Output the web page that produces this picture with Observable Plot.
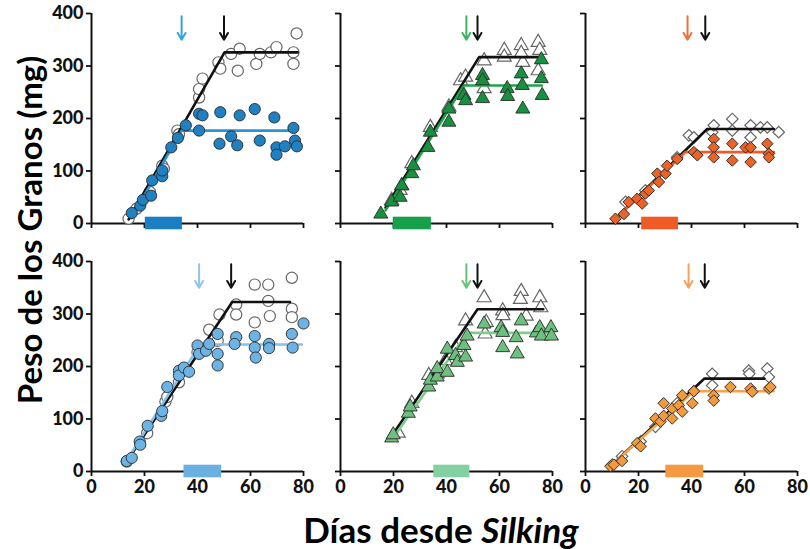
<!DOCTYPE html>
<html>
<head>
<meta charset="utf-8">
<script src="https://cdn.jsdelivr.net/npm/d3@7"></script>
<script src="https://cdn.jsdelivr.net/npm/@observablehq/plot@0.6"></script>
<style>
  html, body { margin: 0; padding: 0; background: #fff; }
  #wrap { position: relative; width: 810px; height: 549px; overflow: hidden; font-family: Lato, "Open Sans", sans-serif; }
  .panel { position: absolute; }
  .panel svg { overflow: visible; }
  .panel svg [aria-label$="tick"] path, .panel svg .tick line { stroke-width: 1.8px; stroke: #111; }
  #ylab { position: absolute; left: 29px; top: 230px; transform: translate(-50%, -50%) rotate(-90deg); white-space: nowrap; font-weight: 700; font-size: 33px; color: #000; }
  #xlab { position: absolute; left: 441px; top: 529px; transform: translate(-50%, -50%); white-space: nowrap; font-weight: 700; font-size: 35px; color: #000; }
</style>
</head>
<body>
<div id="wrap">
  <div id="ylab">Peso de los Granos (mg)</div>
  <div id="xlab">Días desde <i>Silking</i></div>
</div>
<script>
// ---- Data ----
const xTicks = [0, 20, 40, 60, 80];
const yTicks = [0, 100, 200, 300, 400];

// Panel 1 (top-left, circles, blue)
const p1Open = [[14,9],[17,28],[22,60],[26.7,110],[27.3,104],[32.4,177],[33,170],[40.6,240],[40.6,256],[41.9,276],[47.9,307],[48.6,295],[52.7,323],[55.9,333],[55.2,291],[62.2,304],[63.5,323],[67.7,326],[69.8,336],[76.2,326],[76.2,304],[77.4,362]];
const p1Filled = [[15.2,20],[18.4,34],[19.4,45],[22.5,53],[22.9,82],[26.7,90],[26.7,101],[30.1,145],[32.6,163],[35.6,187],[40.6,209],[41.9,206],[40.6,177],[48.6,212],[48.3,152],[52.7,166],[55.0,149],[55.9,206],[61.6,218],[63.5,158],[69.0,202],[69.8,145],[69.8,131],[73.0,147],[76.2,182],[76.8,158],[77.5,147]];
const p1Black = [[14,8],[50.2,326],[77.8,326]];
const p1Color = [[15,10],[34,177],[77.5,177]];
const p1Arrows = [34, 50];
const p1Bar = [[20.3, 34.3]];

// Panel 2 (top-middle, triangles, green)
const p2Open = [[19.3,44],[22.5,63],[23.1,72],[26.9,114],[33.9,183],[40.9,222],[45.3,272],[47.2,279],[54.2,310],[54.2,257],[61.8,330],[61.8,317],[68.2,339],[68.8,307],[68.2,324],[74.6,345],[75.2,330],[74.6,291]];
const p2Filled = [[15.2,18],[19.3,41],[22.5,50],[23.1,72],[26.9,95],[27.5,110],[33.0,145],[33.9,174],[40.9,193],[40.9,218],[46.6,244],[47.2,234],[53.6,282],[53.6,272],[53.6,238],[62.9,257],[63.1,242],[68.2,285],[68.6,263],[68.8,218],[75.8,312],[75.8,276],[76.1,244]];
const p2Black = [[17,30],[52.3,317],[75.9,317]];
const p2Color = [[17,25],[46.6,263],[76,263]];
const p2Arrows = [47.5, 51.7];
const p2Bar = [[19.9, 34.3]];

// Panel 3 (top-right, diamonds, orange-red)
const p3Open = [[15.1,41],[22.6,63],[34.6,126],[39.0,168],[40.9,164],[47.8,174],[48.4,187],[55.4,199],[55.4,177],[62.3,187],[62.3,164],[66.0,183],[68.6,183],[72.9,174]];
const p3Filled = [[11.3,9],[14.5,18],[16.3,41],[19.5,47],[21.4,38],[22.6,57],[23.9,63],[27.1,95],[27.7,79],[30.2,95],[30.8,110],[34.6,123],[40.9,136],[42.2,130],[48.4,161],[48.4,145],[48.4,126],[55.4,152],[55.4,120],[60.4,145],[62.3,145],[62.3,117],[68.6,152],[69.2,133],[69.2,126]];
const p3Black = [[11.3,9],[45.9,180],[71.1,180]];
const p3Color = [[11.3,9],[37.7,136],[71.1,136]];
const p3Arrows = [38.5, 45.2];
const p3Bar = [[21.2, 35.1]];

// Panel 4 (bottom-left, circles, light blue)
const p4Open = [[13.3,19],[21.0,73],[27.9,133],[28.6,142],[33.0,170],[40.0,227],[44.4,270],[48.3,299],[47.6,249],[54.6,318],[54.6,299],[61.6,356],[61.6,284],[66.7,356],[66.7,325],[67.3,296],[75.6,369],[75.6,310],[75.6,294]];
const p4Filled = [[13.3,20],[15.2,26],[18.2,57],[18.4,51],[21.2,87],[26.3,106],[26.7,115],[28.6,161],[33.0,192],[33.0,183],[34.9,198],[36.8,190],[40.0,240],[40.6,224],[43.2,230],[44.4,243],[47.6,262],[47.6,224],[47.6,202],[54.6,256],[54.0,243],[61.6,258],[61.6,236],[62.0,217],[67.0,243],[67.0,235],[75.6,262],[75.9,236],[80.0,282]];
const p4Black = [[13.3,19],[53.1,323],[74.9,323]];
const p4Color = [[12.5,15],[41,242],[79.4,242]];
const p4Arrows = [40.6, 52.7];
const p4Bar = [[34.9, 49.1]];

// Panel 5 (bottom-middle, triangles, light green)
const p5Open = [[21.8,73],[26.9,130],[33.3,183],[36.5,186],[39.6,211],[43.4,236],[47.2,287],[54.2,331],[54.6,262],[55,284],[61.2,306],[61.3,297],[68.2,343],[67.9,328],[70.1,296],[75.2,331],[75.6,312]];
const p5Filled = [[19.3,64],[19.9,70],[25.6,111],[26.3,123],[33.3,161],[33.9,174],[36.5,180],[36.5,196],[40.3,189],[40.3,233],[43.4,221],[44.1,208],[46.6,240],[47.2,218],[47.8,258],[54.2,281],[60.6,274],[61.2,265],[61.2,236],[66.3,255],[66.7,224],[68.2,287],[73.9,264],[75.2,274],[75.8,258],[79.4,274],[79.6,258]];
const p5Black = [[19.3,67],[51.7,309],[76.5,309]];
const p5Color = [[19.3,60],[47.8,264],[79.6,264]];
const p5Arrows = [47.5, 51.7];
const p5Bar = [[35.2, 48.8]];

// Panel 6 (bottom-right, diamonds, light orange)
const p6Open = [[10.1,13],[13.8,29],[20.8,57],[26.4,85],[34.6,130],[40.9,153],[47.8,186],[47.8,164],[61.6,192],[61.8,186],[68.6,196],[69.2,180]];
const p6Filled = [[9.4,10],[10.7,13],[13.8,20],[19.5,54],[20.8,48],[26.4,101],[28.3,95],[29.5,130],[29.5,106],[32.7,120],[32.7,101],[35.2,126],[36.5,114],[36.5,145],[40.3,130],[40.9,153],[48.4,145],[48.4,135],[54.7,161],[62.3,158],[62.9,152],[69.2,158],[69.8,161]];
const p6Black = [[9.4,10],[44.9,177],[67.5,177]];
const p6Color = [[9.4,10],[40.9,153],[71,153]];
const p6Arrows = [38.9, 45];
const p6Bar = [[30.3, 44.6]];

// ---- Panel styling / layout (built from the arrays above) ----
const panels = [
  {open:p1Open, filled:p1Filled, black:p1Black, line:p1Color, arrows:p1Arrows, bar:p1Bar, symbol:"circle", r:5.6, rotate:0,
   fill:"#1f80c2", lineColor:"#2b93d6", barColor:"#1b7dc2", arrowColor:"#33a4e0", left:51, top:3, showX:false, showY:true},
  {open:p2Open, filled:p2Filled, black:p2Black, line:p2Color, arrows:p2Arrows, bar:p2Bar, symbol:"triangle", r:5.2, rotate:0,
   fill:"#17913f", lineColor:"#1fa34a", barColor:"#16a04a", arrowColor:"#3db462", left:300, top:3, showX:false, showY:false},
  {open:p3Open, filled:p3Filled, black:p3Black, line:p3Color, arrows:p3Arrows, bar:p3Bar, symbol:"square", r:4.6, rotate:45,
   fill:"#ec6328", lineColor:"#f05a24", barColor:"#f05a24", arrowColor:"#f0703a", left:545, top:3, showX:false, showY:false},
  {open:p4Open, filled:p4Filled, black:p4Black, line:p4Color, arrows:p4Arrows, bar:p4Bar, symbol:"circle", r:5.6, rotate:0,
   fill:"#6db4e6", lineColor:"#86c1ea", barColor:"#6ab1e2", arrowColor:"#8cc4ee", left:51, top:251, showX:true, showY:true},
  {open:p5Open, filled:p5Filled, black:p5Black, line:p5Color, arrows:p5Arrows, bar:p5Bar, symbol:"triangle", r:5.2, rotate:0,
   fill:"#6dc07e", lineColor:"#7fcc8c", barColor:"#84d0a0", arrowColor:"#6cc07a", left:300, top:251, showX:true, showY:false},
  {open:p6Open, filled:p6Filled, black:p6Black, line:p6Color, arrows:p6Arrows, bar:p6Bar, symbol:"square", r:4.6, rotate:45,
   fill:"#f39a3c", lineColor:"#f5a24a", barColor:"#f39a42", arrowColor:"#f5a060", left:545, top:251, showX:true, showY:false}
];

const wrap = document.getElementById("wrap");
for (const p of panels) {
  const chart = Plot.plot({
    width: 260, height: 250,
    marginLeft: 40, marginRight: 8, marginTop: 10, marginBottom: 30,
    style: {fontFamily: "Lato, 'Open Sans', sans-serif", fontSize: "18px", fontWeight: "900", color: "#111", background: "transparent", overflow: "visible"},
    x: {domain: [0, 80], ticks: xTicks, tickSize: 5, tickPadding: 4, tickFormat: p.showX ? (d => d) : (() => ""), label: null},
    y: {domain: [0, 400], ticks: yTicks, tickSize: 5, tickPadding: 3, tickFormat: p.showY ? (d => d) : (() => ""), label: null},
    marks: [
      Plot.ruleY([0], {x1: 0, x2: 80, stroke: "#111", strokeWidth: 2}),
      Plot.ruleX([0], {y1: 0, y2: 400, stroke: "#111", strokeWidth: 2}),
      Plot.rect(p.bar, {x1: d => d[0], x2: d => d[1], y1: -12, y2: 12, fill: p.barColor}),
      Plot.dot(p.open, {x: d => d[0], y: d => d[1], symbol: p.symbol, r: p.r, rotate: p.rotate, fill: "white", stroke: "#666", strokeWidth: 1.2}),
      Plot.line(p.black, {x: d => d[0], y: d => d[1], stroke: "#111", strokeWidth: 2.6}),
      Plot.line(p.line, {x: d => d[0], y: d => d[1], stroke: p.lineColor, strokeWidth: 2.6}),
      Plot.dot(p.filled, {x: d => d[0], y: d => d[1], symbol: p.symbol, r: p.r, rotate: p.rotate, fill: p.fill, stroke: "#2a2a2a", strokeWidth: 0.9}),
      Plot.arrow([p.arrows[0]], {x1: d => d, x2: d => d, y1: 395, y2: 350, stroke: p.arrowColor, strokeWidth: 2, headLength: 9}),
      Plot.arrow([p.arrows[1]], {x1: d => d, x2: d => d, y1: 395, y2: 350, stroke: "#111", strokeWidth: 2, headLength: 9})
    ]
  });
  const div = document.createElement("div");
  div.className = "panel";
  div.style.left = p.left + "px";
  div.style.top = p.top + "px";
  div.appendChild(chart);
  wrap.appendChild(div);
}
</script>
</body>
</html>
